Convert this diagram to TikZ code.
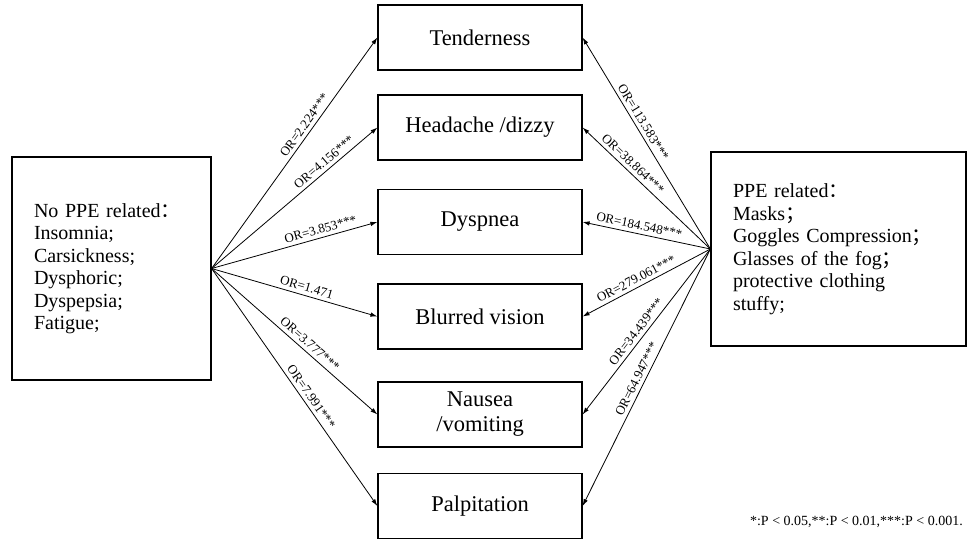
\documentclass[tikz,border=0pt]{standalone}
\usepackage{fontspec}
\setmainfont{Liberation Serif}
\newfontfamily\cjk{Noto Sans CJK SC}
\usetikzlibrary{arrows.meta}
\tikzset{
  symptom/.style={shape=rectangle, draw, line width=1.2pt, inner sep=0, minimum width=204pt, minimum height=65pt, align=center, font=\fontsize{22.5}{25}\selectfont},
  cause/.style={shape=rectangle, draw, line width=1.2pt, inner xsep=22pt, inner ysep=0, align=left, font=\fontsize{20}{22.5}\selectfont},
  orline/.style={-{Latex[length=7pt,width=4.5pt]}, line width=0.8pt},
  orlabel/.style={sloped, above, inner sep=3.5pt, font=\fontsize{13}{13}\selectfont},
}
\begin{document}
\begin{tikzpicture}[x=1pt, y=-1pt]
          \useasboundingbox (0,0) rectangle (968,542);
          % Paths, nodes and wires:
          \node[symptom] (tend) at (480, 37.5){Tenderness};
          \node[symptom] (head) at (480, 127.5){Headache /dizzy};
          \node[symptom] (dysp) at (480, 222){Dyspnea};
          \node[symptom] (blur) at (480, 316.5){Blurred vision};
          \node[symptom] (naus) at (480, 414.5){Nausea\\/vomiting};
          \node[symptom] (palp) at (480, 506){Palpitation};
          \node[cause, text width=155pt, minimum height=223pt] (noppe) at (111.5, 268.5){No PPE related{\cjk ：}\\Insomnia;\\Carsickness;\\Dysphoric;\\Dyspepsia;\\Fatigue;};
          \node[cause, text width=211pt, minimum height=194pt] (ppe) at (838.5, 249){PPE related{\cjk ：}\\Masks{\cjk ；}\\Goggles Compression{\cjk ；}\\Glasses of the fog{\cjk ；}\\protective clothing\\stuffy;};
          \draw[orline] (noppe.east) -- node[orlabel, pos=0.6]{OR=2.224***} (tend.west);
          \draw[orline] (noppe.east) -- node[orlabel, pos=0.71]{OR=4.156***} (head.west);
          \draw[orline] (noppe.east) -- node[orlabel, pos=0.67]{OR=3.853***} (dysp.west);
          \draw[orline] (noppe.east) -- node[orlabel, pos=0.56]{OR=1.471} (blur.west);
          \draw[orline] (noppe.east) -- node[orlabel, pos=0.56]{OR=3.777***} (naus.west);
          \draw[orline] (noppe.east) -- node[orlabel, pos=0.56]{OR=7.991***} (palp.west);
          \draw[orline] (ppe.west) -- node[orlabel, pos=0.58]{OR=113.583***} (tend.east);
          \draw[orline] (ppe.west) -- node[orlabel, pos=0.65]{OR=38.864***} (head.east);
          \draw[orline] (ppe.west) -- node[orlabel, pos=0.57]{OR=184.548***} (dysp.east);
          \draw[orline] (ppe.west) -- node[orlabel, pos=0.55]{OR=279.061***} (blur.east);
          \draw[orline] (ppe.west) -- node[orlabel, pos=0.53]{OR=34.439***} (naus.east);
          \draw[orline] (ppe.west) -- node[orlabel, pos=0.52]{OR=64.947***} (palp.east);
          \node[anchor=east, inner sep=0, font=\fontsize{14}{14}\selectfont] (note) at (963, 522){*:P < 0.05,**:P < 0.01,***:P < 0.001.};
        \end{tikzpicture}
\end{document}
